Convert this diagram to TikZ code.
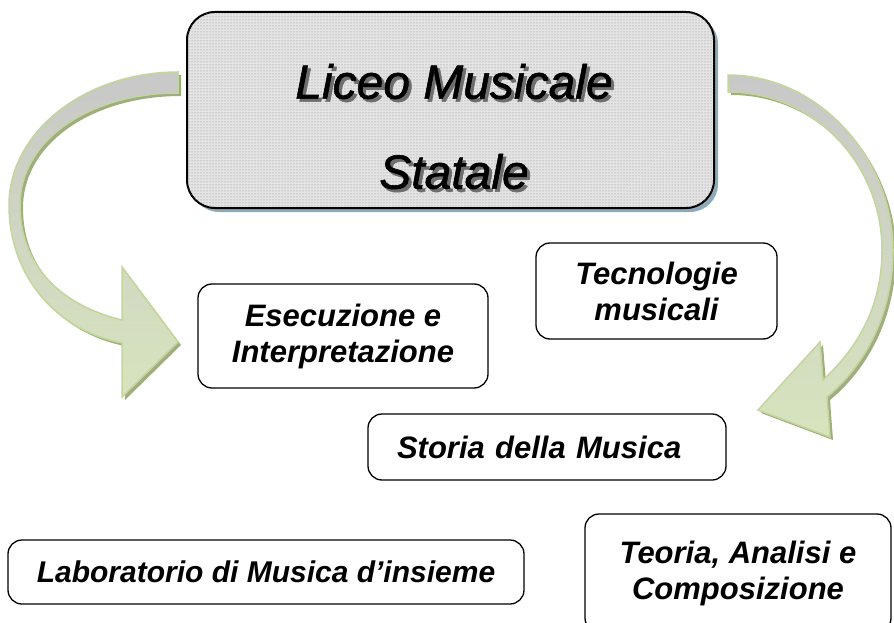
\documentclass[tikz,border=0pt]{standalone}
\usepackage{fontspec}
\setmainfont{Liberation Sans}
\newfontfamily\titolofont[FakeBold=1.2]{Liberation Sans}
\usetikzlibrary{positioning,patterns,shadows}

\definecolor{grigiofreccia}{RGB}{200,200,200}
\definecolor{verdefreccia}{RGB}{215,228,189}
\definecolor{bordofreccia}{RGB}{195,214,155}
\definecolor{ombrafreccia}{RGB}{160,172,130}
\definecolor{ombratitolo}{RGB}{143,169,184}
\definecolor{fondotitolo}{RGB}{228,228,228}
\definecolor{puntini}{RGB}{130,130,130}
\definecolor{ombratesto}{RGB}{110,110,110}

\newcommand{\frecciaSx}{(178,72) .. controls (85,72) and (9,132) .. (9,205)
  .. controls (9,275) and (55,330) .. (122,343) -- (122,397) -- (178,342)
  -- (122,267) -- (122,320) .. controls (60,305) and (20,265) .. (20,205)
  .. controls (20,140) and (90,93) .. (178,93) -- cycle}
\newcommand{\frecciaDx}{(728,75) .. controls (820,75) and (893,160) .. (893,250)
  .. controls (893,320) and (860,370) .. (827,397) -- (830,437) -- (758,410)
  -- (820,342) -- (823,380) .. controls (855,350) and (882,310) .. (882,250)
  .. controls (882,165) and (815,92) .. (728,92) -- cycle}
% testo con ombra
\newcommand{\ombreggiato}[1]{\leavevmode\rlap{\kern3pt\raisebox{-3pt}{\color{ombratesto}#1}}#1}

\tikzset{
  titolobox/.style={draw=black, line width=2, rounded corners=28, fill=fondotitolo,
    minimum width=527, minimum height=196,
    postaction={pattern=dots, pattern color=puntini},
    drop shadow={shadow xshift=4pt, shadow yshift=-4pt, fill=ombratitolo, opacity=1}},
  titolotesto/.style={align=center, inner sep=0,
    font=\fontsize{48}{90}\selectfont\titolofont\itshape},
  casella/.style={draw=black, line width=1.3, rounded corners=14, align=center,
    inner sep=0, font=\fontsize{31}{36}\selectfont\bfseries\itshape},
}

\begin{document}
\begin{tikzpicture}[x=1pt, y=-1pt]
  \useasboundingbox (0,0) rectangle (894,623);

  % frecce curve
  \fill[ombrafreccia, shift={(3,3)}] \frecciaSx;
  \shadedraw[draw=bordofreccia, line width=1.5, top color=grigiofreccia,
    middle color=grigiofreccia!45!verdefreccia, bottom color=verdefreccia] \frecciaSx;
  \fill[ombrafreccia, shift={(3,3)}] \frecciaDx;
  \shadedraw[draw=bordofreccia, line width=1.5, top color=grigiofreccia,
    middle color=grigiofreccia!50!verdefreccia, bottom color=verdefreccia] \frecciaDx;

  \node[titolobox] (liceo) at (450.5,110) {};
  \node[titolotesto] (liceotesto) at (454,128) {\ombreggiato{Liceo Musicale}\\\ombreggiato{Statale}};

  \node[casella, minimum width=290, minimum height=104] (esecuzione) at (343,336) {Esecuzione e\\Interpretazione};
  \node[casella, minimum width=241, minimum height=96] (tecnologie) at (656.5,291) {Tecnologie\\musicali};
  \node[casella, minimum height=66, text width=300, inner xsep=29, align=left] (storia) at (547,447) {Storia della Musica};
  \node[casella, minimum width=516, minimum height=64, font=\fontsize{30}{36}\selectfont\bfseries\itshape] (laboratorio) at (266,572) {Laboratorio di Musica d’insieme};
  \node[casella, minimum width=306, minimum height=118] (teoria) at (738,573) {Teoria, Analisi e\\Composizione};

\end{tikzpicture}
\end{document}
